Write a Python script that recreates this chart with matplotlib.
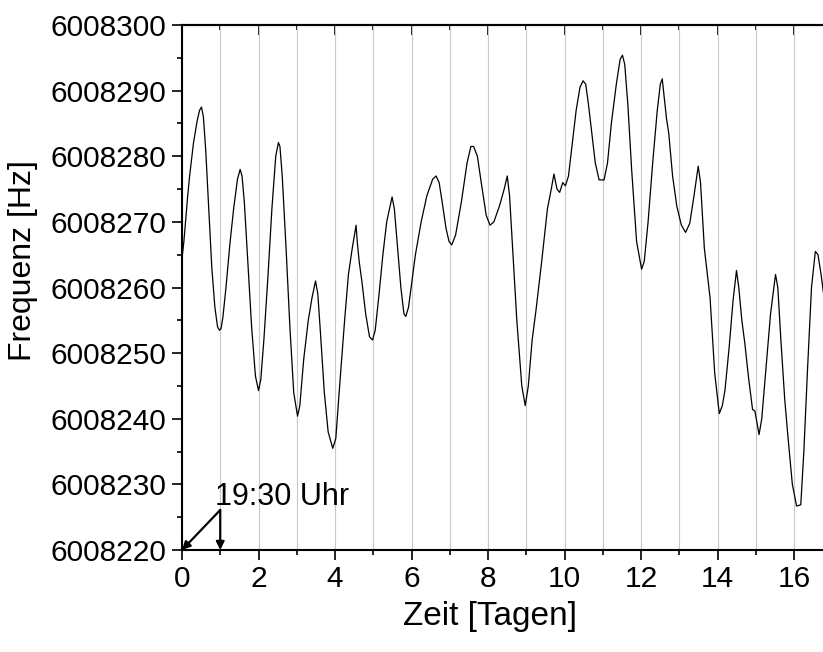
import numpy as np
import matplotlib
matplotlib.use("Agg")
import matplotlib.pyplot as plt
from matplotlib.ticker import MultipleLocator

plt.rcParams['font.family'] = ['Liberation Sans', 'DejaVu Sans']

# Messreihe: Zeit in Tagen, Frequenz in Hz
zeit = [
    0.00, 0.05, 0.10, 0.15, 0.20, 0.30, 0.40, 0.46, 0.51, 0.56, 0.62, 0.70, 0.78, 0.86, 0.93, 0.98,
    1.02, 1.07, 1.15, 1.25, 1.35, 1.45, 1.52, 1.57, 1.63, 1.72, 1.82, 1.92,
    2.00, 2.06, 2.14, 2.25, 2.35, 2.45, 2.52, 2.56, 2.62, 2.72, 2.82, 2.92,
    3.02, 3.08, 3.18, 3.30, 3.40, 3.49, 3.55, 3.62, 3.72, 3.82, 3.94,
    4.02, 4.12, 4.25, 4.35, 4.45, 4.55, 4.58, 4.63, 4.70, 4.80, 4.90, 4.98,
    5.05, 5.15, 5.25, 5.35, 5.49, 5.55, 5.62, 5.72, 5.80, 5.85, 5.92,
    6.00, 6.10, 6.25, 6.40, 6.55, 6.64, 6.72, 6.80, 6.90, 6.98,
    7.05, 7.15, 7.30, 7.45, 7.55, 7.62, 7.72, 7.82, 7.95,
    8.05, 8.15, 8.30, 8.42, 8.50, 8.56, 8.65, 8.75, 8.88, 8.97,
    9.05, 9.15, 9.25, 9.40, 9.55, 9.65, 9.72, 9.80, 9.87, 9.95,
    10.02, 10.10, 10.20, 10.30, 10.40, 10.48, 10.55, 10.62, 10.70, 10.80, 10.90,
    11.03, 11.12, 11.22, 11.35, 11.45, 11.51, 11.57, 11.65, 11.75, 11.88,
    12.01, 12.08, 12.18, 12.30, 12.42, 12.50, 12.55, 12.60, 12.66, 12.72, 12.82, 12.93,
    13.05, 13.16, 13.27, 13.38, 13.49, 13.55, 13.65, 13.80, 13.92,
    14.04, 14.12, 14.19, 14.30, 14.40, 14.49, 14.55, 14.63, 14.71, 14.80, 14.91, 14.97,
    15.08, 15.15, 15.25, 15.38, 15.51, 15.57, 15.65, 15.75, 15.84, 15.95,
    16.06, 16.17, 16.25, 16.35, 16.45, 16.55, 16.62, 16.70, 16.80, 16.90,
]
frequenz = [
    6008264.4, 6008267.0, 6008270.5, 6008274.0, 6008277.0, 6008282.0, 6008285.5, 6008287.0, 6008287.5, 6008286.0, 6008281.0, 6008272.0, 6008263.0, 6008257.0, 6008254.0, 6008253.5,
    6008253.7, 6008255.5, 6008260.0, 6008266.5, 6008272.0, 6008276.5, 6008278.0, 6008277.0, 6008273.0, 6008264.0, 6008254.0, 6008246.5,
    6008244.3, 6008246.0, 6008252.0, 6008262.0, 6008272.0, 6008280.0, 6008282.1, 6008281.5, 6008277.0, 6008266.0, 6008254.0, 6008244.0,
    6008240.4, 6008242.0, 6008249.0, 6008255.0, 6008258.5, 6008261.0, 6008259.0, 6008253.0, 6008244.0, 6008238.0, 6008235.5,
    6008237.0, 6008245.0, 6008255.0, 6008262.0, 6008266.0, 6008269.5, 6008267.0, 6008264.0, 6008261.0, 6008256.0, 6008252.5, 6008252.0,
    6008253.5, 6008259.0, 6008265.0, 6008270.0, 6008273.8, 6008272.0, 6008267.0, 6008260.0, 6008256.0, 6008255.6, 6008257.0,
    6008260.5, 6008265.0, 6008270.0, 6008274.0, 6008276.5, 6008277.0, 6008276.0, 6008273.0, 6008269.0, 6008267.0,
    6008266.5, 6008268.0, 6008273.0, 6008279.0, 6008281.5, 6008281.5, 6008280.0, 6008276.0, 6008271.0,
    6008269.5, 6008270.0, 6008272.5, 6008275.0, 6008277.0, 6008274.0, 6008265.0, 6008255.0, 6008245.0, 6008242.0,
    6008245.0, 6008252.0, 6008256.5, 6008264.0, 6008272.0, 6008275.0, 6008277.3, 6008275.0, 6008274.5, 6008276.0,
    6008275.5, 6008277.0, 6008282.0, 6008287.0, 6008290.5, 6008291.5, 6008291.0, 6008288.0, 6008284.0, 6008279.0, 6008276.4,
    6008276.4, 6008279.0, 6008285.0, 6008291.0, 6008294.8, 6008295.4, 6008294.0, 6008288.0, 6008278.0, 6008267.0,
    6008262.8, 6008264.0, 6008270.0, 6008279.0, 6008287.0, 6008291.0, 6008291.8, 6008289.0, 6008285.8, 6008283.5, 6008277.0, 6008272.4,
    6008269.5, 6008268.4, 6008269.8, 6008274.0, 6008278.5, 6008276.0, 6008266.0, 6008258.4, 6008247.0,
    6008240.8, 6008242.0, 6008244.4, 6008251.0, 6008258.0, 6008262.6, 6008260.0, 6008255.0, 6008251.4, 6008246.5, 6008241.4, 6008241.2,
    6008237.6, 6008240.0, 6008247.0, 6008256.0, 6008262.0, 6008260.0, 6008252.0, 6008243.0, 6008236.9, 6008230.0,
    6008226.7, 6008226.9, 6008235.0, 6008248.0, 6008260.0, 6008265.5, 6008265.0, 6008262.0, 6008257.5, 6008253.0,
]

x_ticks = [0, 2, 4, 6, 8, 10, 12, 14, 16]
y_ticks = [6008220, 6008230, 6008240, 6008250, 6008260, 6008270, 6008280, 6008290, 6008300]

fig = plt.figure(figsize=(8.23, 6.52), dpi=100)
ax = fig.add_axes([0.2211, 0.1564, 0.7905, 0.8052])

ax.plot(zeit, frequenz, color="black", lw=0.9)

ax.set_xlim(0, 17)
ax.set_ylim(6008220, 6008300)
ax.set_xticks(x_ticks)
ax.set_yticks(y_ticks)
ax.xaxis.set_minor_locator(MultipleLocator(1))
ax.yaxis.set_minor_locator(MultipleLocator(5))
ax.ticklabel_format(axis="y", useOffset=False, style="plain")

# graue Linien bei jedem Tag
ax.grid(True, which="both", axis="x", color="#c8c8c8", lw=0.8)
ax.set_axisbelow(True)

for s in ax.spines.values():
    s.set_linewidth(1.5)
ax.tick_params(which="major", direction="out", length=7.5, width=1.2, labelsize=21.5, pad=4)
ax.tick_params(which="minor", direction="out", length=3.5, width=1.2)
ax.tick_params(axis="x", which="major", pad=3)

# Gegenachsen oben/rechts mit innenliegenden Ticks
top = ax.secondary_xaxis("top")
top.set_xticks(x_ticks)
top.xaxis.set_minor_locator(MultipleLocator(1))
top.tick_params(which="major", direction="in", length=7.5, width=1.2, labeltop=False)
top.tick_params(which="minor", direction="in", length=3.5, width=1.2)
top.spines["top"].set_linewidth(1.5)

right = ax.secondary_yaxis("right")
right.set_yticks(y_ticks)
right.yaxis.set_minor_locator(MultipleLocator(5))
right.tick_params(which="major", direction="in", length=7.5, width=1.2, labelright=False)
right.tick_params(which="minor", direction="in", length=3.5, width=1.2)

ax.set_xlabel("Zeit [Tagen]", fontsize=24)
ax.set_ylabel("Frequenz [Hz]", fontsize=23)
ax.xaxis.set_label_coords(0.473, -0.097)
ax.yaxis.set_label_coords(-0.222, 0.552)

# Startzeitpunkt markieren
arrow = dict(arrowstyle="-|>", color="black", lw=1.6, mutation_scale=12, shrinkA=0, shrinkB=0)
ax.annotate("", xy=(0, 6008220), xytext=(1, 6008226.1), arrowprops=arrow, annotation_clip=False)
ax.annotate("", xy=(1, 6008220), xytext=(1, 6008226.1), arrowprops=arrow, annotation_clip=False)
ax.text(0.86, 6008226.9, "19:30 Uhr", fontsize=22, va="baseline", ha="left")

plt.savefig("out.png", dpi=100)
